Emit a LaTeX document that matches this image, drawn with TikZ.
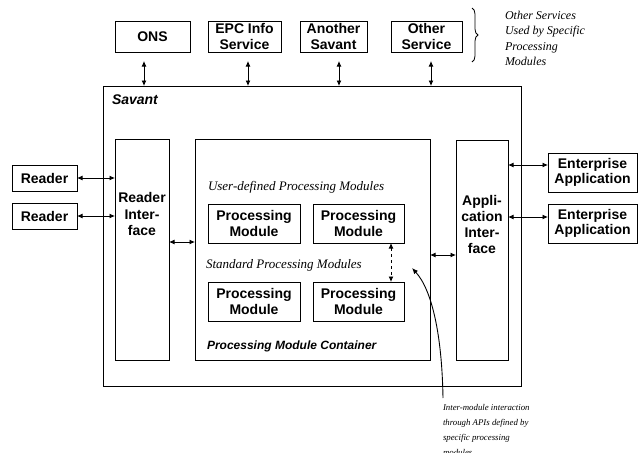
\documentclass[tikz,border=0pt]{standalone}
\usepackage{fontspec}
\setmainfont{Liberation Serif}
\setsansfont{Liberation Sans}
\usetikzlibrary{arrows.meta,decorations.pathreplacing}
\begin{document}
\begin{tikzpicture}[x=1pt,y=-1pt,
  every node/.style={inner sep=0pt, outer sep=0pt},
  box/.style={draw, line width=0.9pt, align=center, font=\sffamily\bfseries\fontsize{14}{15.5}\selectfont},
  btext/.style={align=center, font=\sffamily\bfseries\fontsize{14}{16.5}\selectfont},
  link/.style={{Latex[length=5.5pt,width=5pt]}-{Latex[length=5.5pt,width=5pt]}, line width=0.9pt},
  lbl/.style={anchor=west, font=\itshape\fontsize{13}{14}\selectfont},
  blbl/.style={anchor=west, font=\sffamily\bfseries\itshape\fontsize{12}{14}\selectfont},
  note/.style={anchor=west, align=left}
]
\useasboundingbox (0,0) rectangle (638,453);

% services
\node[box, minimum width=75pt, minimum height=31pt] (ons) at (152.5,36.5) {ONS};
\node[box, minimum width=73pt, minimum height=31pt] (epc) at (244.5,36.5) {EPC Info\\Service};
\node[box, minimum width=67pt, minimum height=31pt] (ans) at (333.5,36.5) {Another\\Savant};
\node[box, minimum width=71pt, minimum height=31pt] (oth) at (426.5,36.5) {Other\\Service};
\draw[decorate, decoration={brace, amplitude=6pt}, line width=0.8pt] (472,8) -- (472,62);
\node[note, font=\itshape\fontsize{12}{15.5}\selectfont] (svcnote) at (505,38.5) {Other Services\\Used by Specific\\Processing\\Modules};

% savant
\node[draw, line width=0.9pt, minimum width=418pt, minimum height=300pt] (savant) at (312,236) {};
\node[anchor=west, font=\sffamily\bfseries\itshape\fontsize{14}{16}\selectfont] (savlbl) at (112,100) {Savant};

% interfaces
\node[draw, line width=0.9pt, minimum width=54pt, minimum height=221pt] (ri) at (142,249.5) {};
\node[btext] (ritext) at (142,214) {Reader\\Inter-\\face};
\node[draw, line width=0.9pt, minimum width=235pt, minimum height=221pt] (cont) at (312.5,249.5) {};
\node[draw, line width=0.9pt, minimum width=52pt, minimum height=220pt] (app) at (482,250) {};
\node[btext, font=\sffamily\bfseries\fontsize{14}{16}\selectfont] (apptext) at (482,224) {Appli-\\cation\\Inter-\\face};

% readers
\node[box, minimum width=65pt, minimum height=26pt] (r1) at (44.5,178) {Reader};
\node[box, minimum width=65pt, minimum height=26pt] (r2) at (44.5,216) {Reader};

% enterprise apps
\node[box, minimum width=89pt, minimum height=39pt] (ea1) at (592.5,172.5) {Enterprise\\Application};
\node[box, minimum width=89pt, minimum height=39pt] (ea2) at (592.5,223.5) {Enterprise\\Application};

% processing modules
\node[lbl] (udl) at (208,187) {User-defined Processing Modules};
\node[box, minimum width=92pt, minimum height=39pt] (pm1) at (254,223.5) {Processing\\Module};
\node[box, minimum width=91pt, minimum height=39pt] (pm2) at (358.5,223.5) {Processing\\Module};
\node[lbl] (stl) at (206,265) {Standard Processing Modules};
\node[box, minimum width=92pt, minimum height=39pt] (pm3) at (254,301.5) {Processing\\Module};
\node[box, minimum width=91pt, minimum height=39pt] (pm4) at (358.5,301.5) {Processing\\Module};
\node[blbl] (pmc) at (207,346) {Processing Module Container};

% connectors: services
\coordinate (sa) at (144,0);
\coordinate (sb) at (248,0);
\coordinate (sc) at (339,0);
\coordinate (sd) at (431,0);
\draw[link, shorten <=9pt] (sa |- ons.south) -- (sa |- savant.north);
\draw[link, shorten <=9pt] (sb |- epc.south) -- (sb |- savant.north);
\draw[link, shorten <=9pt] (sc |- ans.south) -- (sc |- savant.north);
\draw[link, shorten <=9pt] (sd |- oth.south) -- (sd |- savant.north);

% readers to reader interface
\draw[link] (r1.east) -- (r1.east -| ri.west);
\draw[link] (r2.east) -- (r2.east -| ri.west);

% interface to container
\coordinate (ya) at (0,242);
\coordinate (yb) at (0,255);
\draw[link] (ri.east |- ya) -- (cont.west |- ya);
\draw[link] (cont.east |- yb) -- (app.west |- yb);

% application interface to enterprise apps
\coordinate (yc) at (0,165);
\coordinate (yd) at (0,217);
\draw[link] (app.east |- yc) -- (ea1.west |- yc);
\draw[link] (app.east |- yd) -- (ea2.west |- yd);

% inter-module dashed
\coordinate (dx) at (391,0);
\draw[link, dashed] (dx |- pm2.south) -- (dx |- pm4.north);

% annotation
\node[note, font=\itshape\fontsize{8.8}{15}\selectfont] (ann) at (443,430) {Inter-module interaction\\through APIs defined by\\specific processing\\modules};
\coordinate (cs) at (443,398);
\coordinate (ce) at (412,268);
\draw[-{Latex[length=6pt,width=5pt]}, line width=0.9pt] (cs) .. controls (442,335) and (432,290) .. (ce);
\end{tikzpicture}
\end{document}
